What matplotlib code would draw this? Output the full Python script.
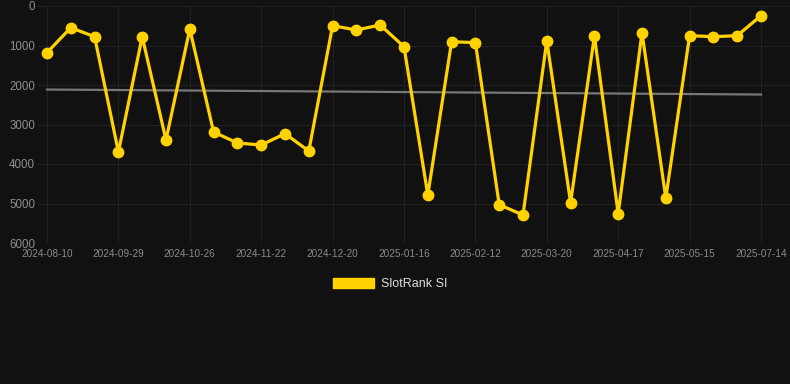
import matplotlib
matplotlib.use("Agg")
import matplotlib.pyplot as plt
from matplotlib.patches import Patch
import numpy as np

plt.rcParams['font.family'] = ['Liberation Sans', 'DejaVu Sans']

# Ranks (lower is better), one point per observation, evenly spaced
ranks = [1180, 549, 777, 3696, 777, 3392, 582, 3190, 3468, 3519, 3232, 3671,
         498, 608, 481, 1030, 4785, 903, 928, 5030, 5291, 878, 4979, 760,
         5257, 675, 4861, 751, 777, 751, 245]
tick_labels = ["2024-08-10", "2024-09-29", "2024-10-26", "2024-11-22",
               "2024-12-20", "2025-01-16", "2025-02-12", "2025-03-20",
               "2025-04-17", "2025-05-15", "2025-07-14"]
series_name = "SlotRank SI"
y_ticks = [0, 1000, 2000, 3000, 4000, 5000, 6000]

W, H = 790, 384
fig = plt.figure(figsize=(W / 100, H / 100), dpi=100)
fig.patch.set_facecolor('#111111')
ax = fig.add_axes([38 / W, (H - 243) / H, 752 / W, 237 / H])
ax.set_facecolor('#111111')

x = np.arange(len(ranks))
gold = '#FFD200'

# trend line (linear fit)
coef = np.polyfit(x, ranks, 1)
ax.plot(x, np.polyval(coef, x), color='#777777', lw=1.6, zorder=2)

line, = ax.plot(x, ranks, color=gold, lw=2.3, marker='o', markersize=7.5,
                markerfacecolor=gold, markeredgecolor=gold, zorder=3,
                solid_joinstyle='miter')

ax.set_ylim(6000, 0)
px = 23.8
ax.set_xlim(-9 / px, (len(ranks) - 1) + 29 / px)
ax.set_yticks(y_ticks)
ax.set_yticklabels([str(v) for v in y_ticks])
tick_pos = list(range(0, len(ranks), 3))
ax.set_xticks(tick_pos)
ax.set_xticklabels(tick_labels)

ax.grid(True, color='#212121', lw=0.8)
ax.set_axisbelow(True)
for s in ax.spines.values():
    s.set_visible(False)
ax.tick_params(axis='both', length=0)
ax.tick_params(axis='y', labelsize=8.3, colors='#8f8f8f', pad=2)
ax.tick_params(axis='x', labelsize=7.2, colors='#8a8a8a', pad=4)

handle = Patch(facecolor=gold, edgecolor=gold)
fig.legend([handle], [series_name], loc='center',
           bbox_to_anchor=(390 / W, 1 - 284 / H), frameon=False,
           fontsize=9, labelcolor='#dddddd', handlelength=3.3,
           handleheight=0.8, handletextpad=0.5)

fig.savefig('out.png', dpi=100, facecolor=fig.get_facecolor())
